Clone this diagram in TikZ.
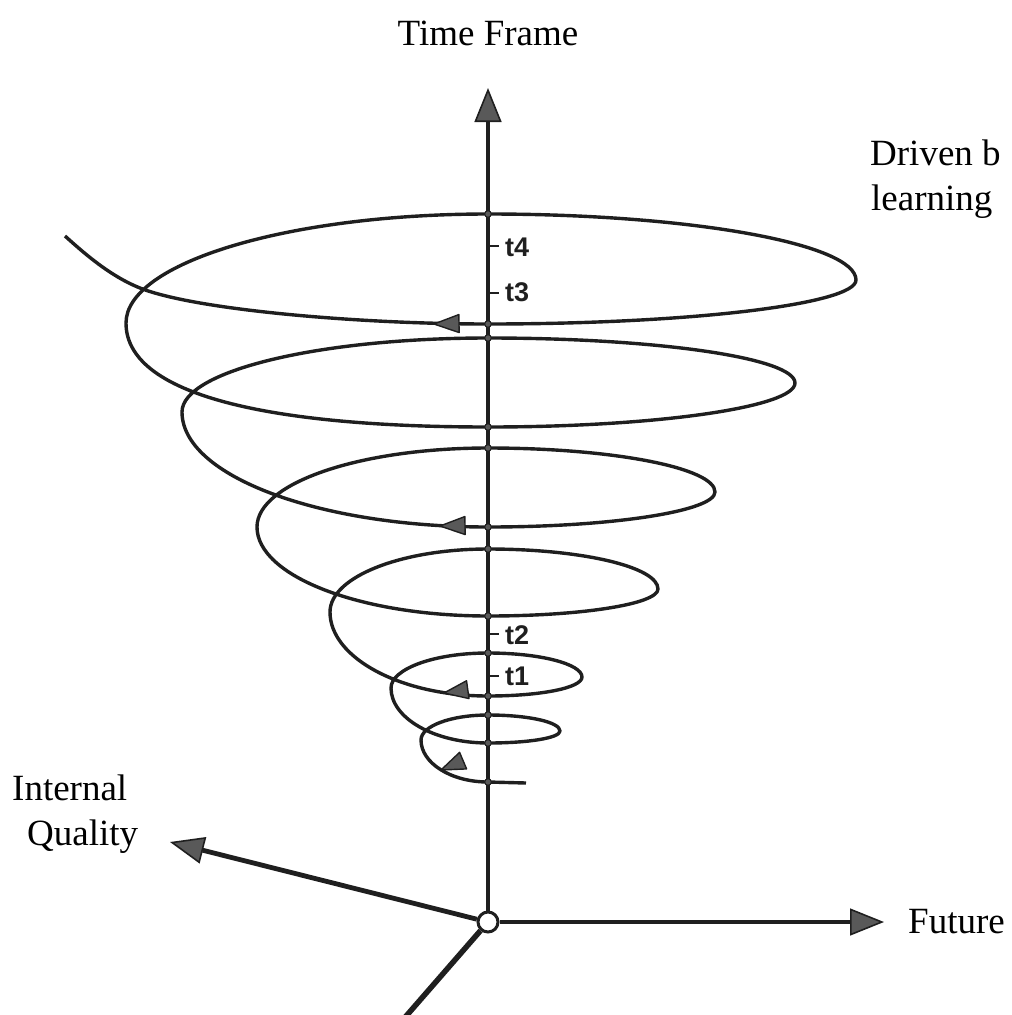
\documentclass[tikz,border=0pt]{standalone}
\usepackage{fontspec}
\setmainfont{Liberation Serif}
\newfontfamily\tickfont{Liberation Sans}
\usetikzlibrary{arrows.meta}
\definecolor{agray}{gray}{0.35}
\definecolor{ink}{gray}{0.12}
\begin{document}
\begin{tikzpicture}[x=1bp,y=-1bp,
  spiral/.style={draw=ink, line width=3.4bp, line join=round},
  axisline/.style={draw=ink, line width=4.8bp},
  axarrow/.style={axisline, -{Triangle[length=34bp,width=27bp,fill=agray,line width=1.6bp]}},
  lbl/.style={font=\fontsize{37bp}{44bp}\selectfont, inner sep=0pt, text=black},
  tlbl/.style={font=\tickfont\bfseries\fontsize{27bp}{32bp}\selectfont, inner sep=0pt, anchor=west, text=ink},
  tickmark/.style={draw=ink, line width=2.8bp},
  xdot/.style={fill=agray, draw=ink, line width=1bp},
  sarr/.style={fill=agray, draw=ink, line width=1.4bp, line join=round},
]
\useasboundingbox (0,0) rectangle (1012,1015);
\clip (0,0) rectangle (1012,1015);

% axes
\coordinate (Ttip) at (488,88);
\coordinate (Ftip) at (884,922);
\coordinate (Itip) at (170,842);
\coordinate (Dend) at (394,1030);
\node[circle, draw=ink, fill=white, line width=3bp, minimum size=20bp, inner sep=0pt] (O) at (488,922) {};
\draw[axarrow] (O) -- (Ttip);
\draw[axarrow] (O) -- (Ftip);
\draw[axarrow] (O) -- (Itip);
\draw[draw=ink, line width=5.5bp] (O) -- (Dend);

% spiral
\draw[spiral] (526,783) -- (488,782)
 .. controls (451,782) and (421,763) .. (421,740)
 .. controls (421,726) and (451,715) .. (488,715)
 .. controls (528,715) and (560,722) .. (560,731)
 .. controls (560,738) and (528,743) .. (488,743)
 .. controls (434,743) and (391,718) .. (391,688)
 .. controls (391,669) and (434,653) .. (488,653)
 .. controls (540,653) and (582,664) .. (582,677)
 .. controls (582,688) and (540,696) .. (488,696)
 .. controls (401,696) and (330,658) .. (330,612)
 .. controls (330,577) and (401,549) .. (488,549)
 .. controls (582,549) and (658,567) .. (658,589)
 .. controls (658,604) and (582,616) .. (488,616)
 .. controls (360,616) and (257,576) .. (257,527)
 .. controls (257,483) and (360,448) .. (488,448)
 .. controls (613,448) and (715,468) .. (715,492)
 .. controls (715,511) and (613,527) .. (488,527)
 .. controls (319,527) and (182,476) .. (182,412)
 .. controls (182,371) and (319,338) .. (488,338)
 .. controls (657,338) and (795,358) .. (795,383)
 .. controls (795,407) and (657,427) .. (488,427)
 .. controls (288,427) and (126,400) .. (126,323)
 .. controls (126,263) and (288,214) .. (488,214)
 .. controls (691,214) and (856,244) .. (856,280)
 .. controls (856,304) and (691,324) .. (488,324)
 .. controls (360,324) and (195,310) .. (140,288)
 .. controls (110,276) and (85,254) .. (65,236);

% direction arrows on the spiral
\filldraw[sarr, shift={(434,324)}, rotate=1] (0,0) -- (25,-9) -- (25,9) -- cycle;
\filldraw[sarr, shift={(440,526)}, rotate=1] (0,0) -- (25,-9) -- (25,9) -- cycle;
\filldraw[sarr, shift={(444,693)}, rotate=8] (0,0) -- (24,-9) -- (24,9) -- cycle;
\filldraw[sarr, shift={(441,770)}, rotate=23] (0,0) -- (24,-9) -- (24,9) -- cycle;

% crossing dots
\foreach \yy in {782,715,743,653,696,549,616,448,527,338,427,214,324}
  \filldraw[xdot] (488,\yy) circle (3.3);

% ticks and labels
\draw[tickmark] (488,246) -- (499,246);
\draw[tickmark] (488,293) -- (499,293);
\draw[tickmark] (488,634) -- (499,634);
\draw[tickmark] (488,676) -- (499,676);
\node[tlbl] (t4) at (505,247) {t4};
\node[tlbl] (t3) at (505,292) {t3};
\node[tlbl] (t2) at (505,635) {t2};
\node[tlbl] (t1) at (505,676) {t1};

% texts
\node[lbl, anchor=base] (tf) at (488,45) {Time Frame};
\node[lbl, anchor=base west] (drv) at (870,165) {Driven b};
\node[lbl, anchor=base west] (lrn) at (871,210) {learning};
\node[lbl, anchor=base west] (fut) at (908,933) {Future};
\node[lbl, anchor=base west] (int) at (12,800) {Internal};
\node[lbl, anchor=base west] (qual) at (27,845) {Quality};
\end{tikzpicture}
\end{document}
